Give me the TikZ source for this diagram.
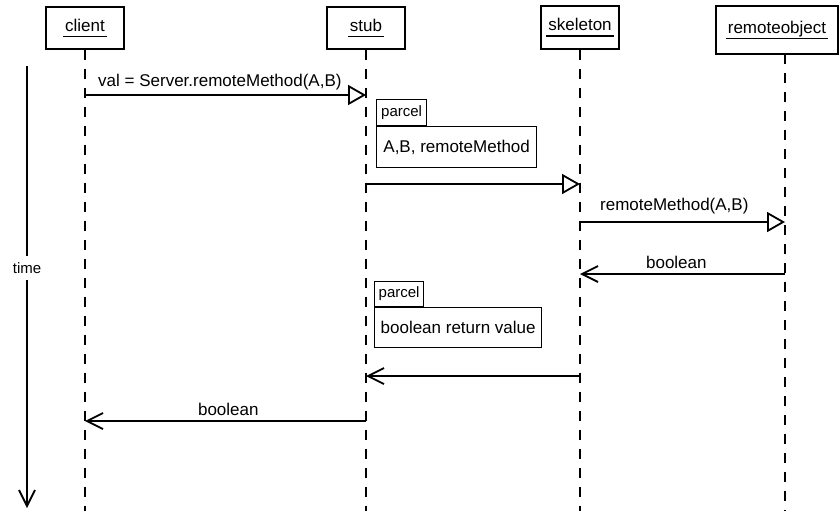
\documentclass[tikz,border=0pt]{standalone}
\usepackage{fontspec}
\setmainfont{Liberation Sans}
\usetikzlibrary{arrows.meta,positioning}
\newcommand{\uname}[1]{\setbox0\hbox{#1}\rlap{\kern-1pt\rule[-3pt]{\dimexpr\wd0+2pt\relax}{0.7pt}}\box0}

\begin{document}
\begin{tikzpicture}[x=0.5pt,y=-0.5pt,
  obj/.style={draw,line width=0.65pt,minimum height=21pt,inner sep=0pt,font=\fontsize{8.5}{10}\selectfont},
  life/.style={line width=0.6pt,dash pattern=on 5pt off 4.5pt},
  call/.style={line width=0.9pt,-{Triangle[open,length=9pt,width=10pt]}},
  ret/.style={line width=0.9pt,-{Straight Barb[length=8pt,width=8pt]}},
  lbl/.style={font=\fontsize{8.5}{10}\selectfont,inner sep=2pt},
  tab/.style={draw,line width=0.65pt,anchor=south west,minimum width=25pt,minimum height=13pt,inner sep=1pt,font=\fontsize{7.5}{9}\selectfont},
  parcel/.style={draw,line width=0.65pt,anchor=north west,minimum height=20.5pt,inner sep=3pt,font=\fontsize{8.5}{10}\selectfont}]
\useasboundingbox (0,0) rectangle (839,511);
\node[obj,minimum width=39pt] (client) at (85,28) {\uname{client}};
\node[obj,minimum width=39pt] (stub) at (366,28) {\uname{stub}};
\node[obj,minimum width=39pt,minimum height=21.5pt] (skeleton) at (580,27.5) {\uname{skeleton}};
\node[obj,minimum width=61pt,minimum height=24pt] (remote) at (777,30) {\uname{remoteobject}};
\coordinate (rL) at (785,54); \coordinate (bot) at (0,511);
% lifelines
\foreach \o in {client,stub,skeleton} \draw[life] (\o.south) -- (\o |- bot);
\draw[life] (rL) -- (rL |- bot);
\foreach \n/\y in {m1/95,m2/184,m3/222,m4/274,m5/376,m6/421} \coordinate (\n) at (0,\y);
% messages
\draw[call] (client |- m1) -- node[lbl,above,pos=0.48] {val = Server.remoteMethod(A,B)} (stub |- m1);
\draw[call] (stub |- m2) -- (skeleton |- m2);
\draw[call] (skeleton |- m3) -- node[lbl,above,pos=0.46,yshift=1.5pt] {remoteMethod(A,B)} (rL |- m3);
\draw[ret] (rL |- m4) -- node[lbl,above,pos=0.53] {boolean} (skeleton |- m4);
\draw[ret] (skeleton |- m5) -- (stub |- m5);
\draw[ret] (stub |- m6) -- node[lbl,above,pos=0.49] {boolean} (client |- m6);
% parcels
\node[tab] (p1tab) at (376,126) {parcel};
\node[parcel,minimum width=80pt] (p1) at (p1tab.south west) {A,B, remoteMethod};
\node[tab,minimum width=24.5pt,minimum height=12.5pt] (p2tab) at (374,307) {parcel};
\node[parcel,minimum width=82.5pt,minimum height=20pt] (p2) at (p2tab.south west) {boolean return value};
% time axis
\node[font=\fontsize{7.5}{9}\selectfont,inner sep=0pt,minimum height=12pt] (time) at (27,268) {time};
\coordinate (t0) at (27,66); \coordinate (t1) at (27,508);
\draw[line width=0.9pt] (t0) -- (time.north);
\draw[line width=0.9pt,-{Straight Barb[length=8pt,width=8pt]}] (time.south) -- (t1);
\end{tikzpicture}
\end{document}
